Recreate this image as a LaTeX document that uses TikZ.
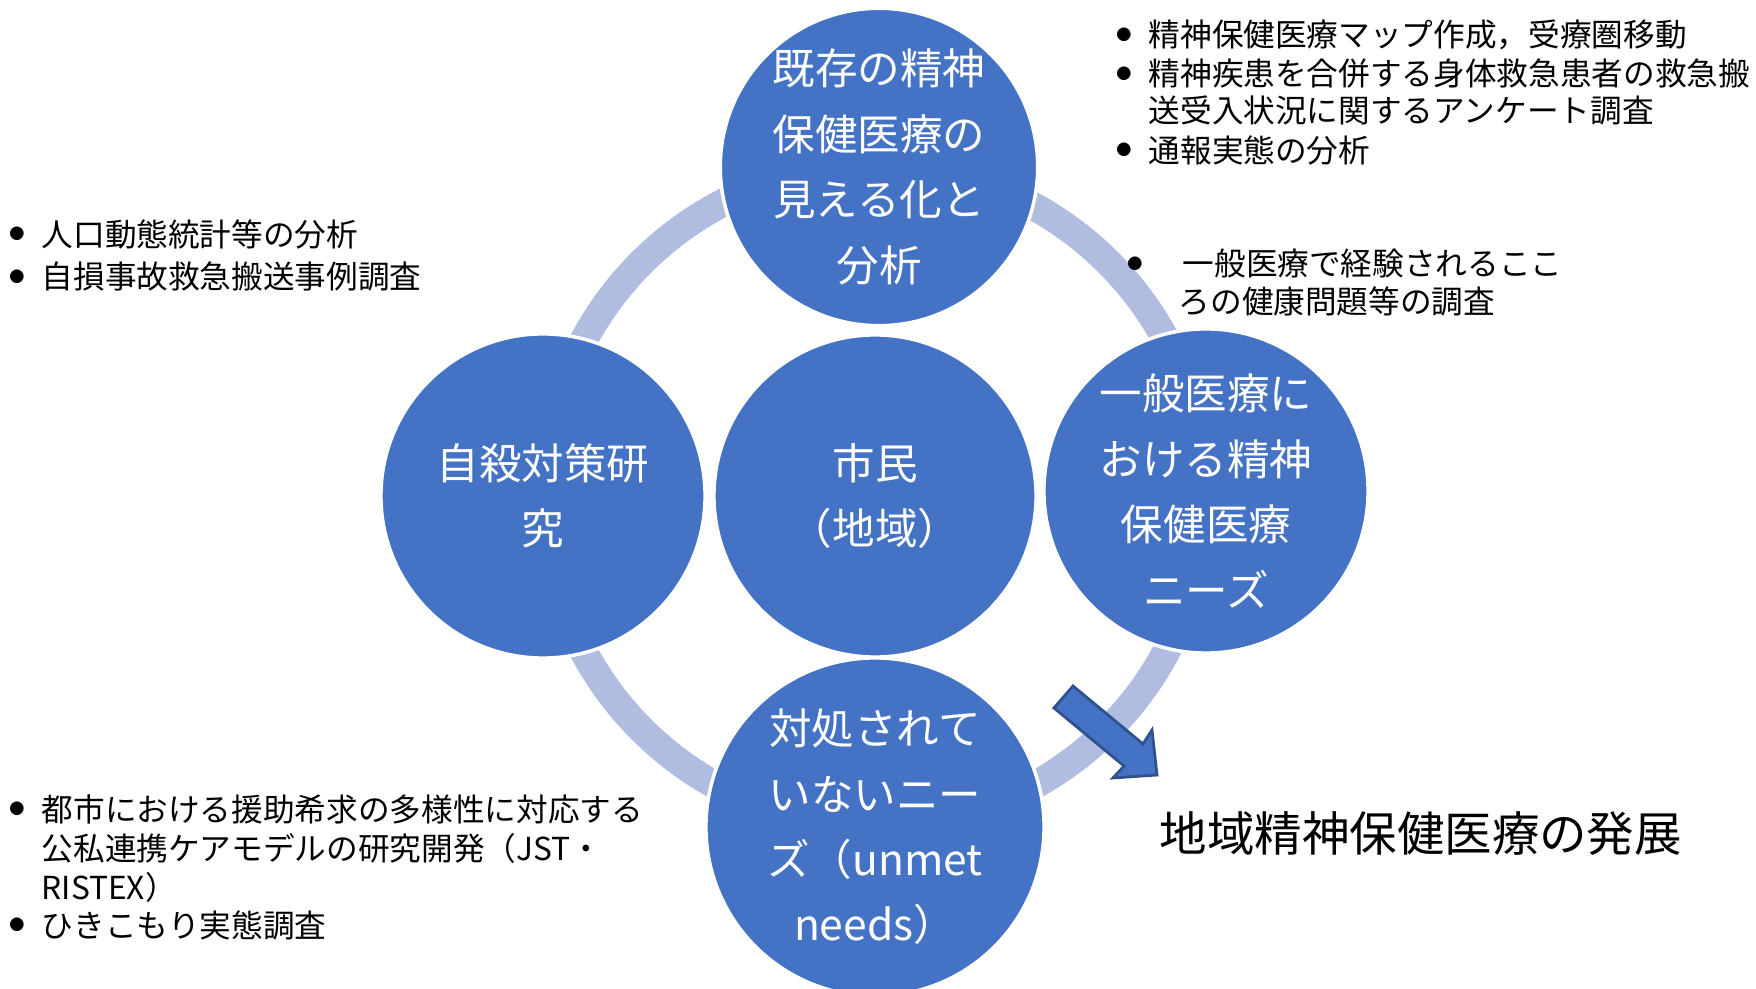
\documentclass[tikz,border=0pt]{standalone}
\usepackage{fontspec}
\setmainfont{Noto Sans CJK JP}
\definecolor{discblue}{HTML}{4472C4}
\definecolor{ringblue}{RGB}{176,189,224}
\definecolor{arrowedge}{HTML}{2F528F}

\begin{document}
\begin{tikzpicture}[x=0.01cm,y=-0.01cm,
  disc/.style={circle,fill=discblue,draw=white,line width=1pt,text=white,
    align=center,inner sep=0pt,font=\fontsize{12.1}{18.6}\selectfont},
  note/.style={anchor=west,inner sep=0pt,font=\fontsize{9}{11}\selectfont},
  dot/.style={inner sep=0pt,font=\fontsize{4.3}{5}\selectfont}]
  \useasboundingbox (0,0) rectangle (1756,989);
  % cycle ring behind the discs
  \coordinate (hub) at (875,496);
  \draw[ringblue,line width=0.28cm] (hub) circle[radius=3.3cm];
  % the five discs
  \node[disc,minimum size=3.14cm] (map) at (879,167)
    {既存の精神\\保健医療の\\見える化と\\分析};
  \node[disc,minimum size=3.24cm] (suicide) at (543,496) {自殺対策研\\究};
  \node[disc,minimum size=3.22cm] (citizen) at (875,496) {市民\\（地域）};
  \node[disc,minimum size=3.24cm] (general) at (1206,491)
    {一般医療に\\おける精神\\保健医療\\ニーズ};
  \node[disc,minimum size=3.38cm] (unmet) at (875,827)
    {対処されて\\いないニー\\ズ（unmet\\needs）};
  % block arrow toward the outcome
  \draw[arrowedge,fill=discblue,line width=0.8pt]
    (1073,686) -- (1143,744) -- (1152,730) -- (1157,775)
    -- (1113,778) -- (1124,766) -- (1054,708) -- cycle;
  \node[anchor=west,inner sep=0pt,font=\fontsize{13.5}{16}\selectfont] (goal)
    at (1159,834) {地域精神保健医療の発展};
  % notes, top right
  \node[dot] (mapdot1) at (1124,35) {●};
  \node[note] (mapnote1) at (1148,35) {精神保健医療マップ作成，受療圏移動};
  \node[dot] (mapdot2) at (1124,74) {●};
  \node[note] (mapnote2) at (1148,74) {精神疾患を合併する身体救急患者の救急搬};
  \node[note] (mapnote3) at (1148,111) {送受入状況に関するアンケート調査};
  \node[dot] (mapdot3) at (1124,150) {●};
  \node[note] (mapnote4) at (1148,150) {通報実態の分析};
  % notes, right
  \node[dot] (gendot) at (1135,264) {●};
  \node[note] (gennote1) at (1182,264) {一般医療で経験されるここ};
  \node[note] (gennote2) at (1178,302) {ろの健康問題等の調査};
  % notes, left
  \node[dot] (suidot1) at (17,234) {●};
  \node[note] (suinote1) at (41,234) {人口動態統計等の分析};
  \node[dot] (suidot2) at (17,277) {●};
  \node[note] (suinote2) at (41,277) {自損事故救急搬送事例調査};
  % notes, bottom left
  \node[dot] (unmdot1) at (17,809) {●};
  \node[note] (unmnote1) at (41,809) {都市における援助希求の多様性に対応する};
  \node[note] (unmnote2) at (41,848) {公私連携ケアモデルの研究開発（JST・};
  \node[note] (unmnote3) at (41,887) {RISTEX）};
  \node[dot] (unmdot2) at (17,925) {●};
  \node[note] (unmnote4) at (41,925) {ひきこもり実態調査};
\end{tikzpicture}
\end{document}
